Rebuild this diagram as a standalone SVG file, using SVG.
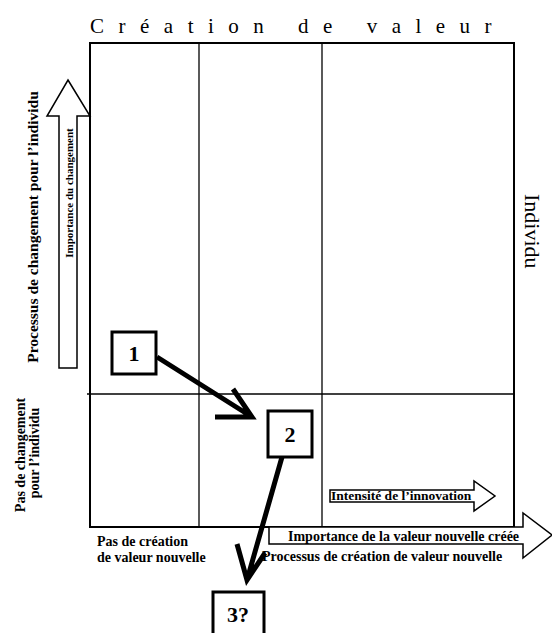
<svg xmlns="http://www.w3.org/2000/svg" width="552" height="633" viewBox="0 0 552 633">
<style>
.ln{fill:none;stroke:#000;stroke-width:2}
.thin{fill:none;stroke:#000;stroke-width:1.3}
.big{fill:#fff;stroke:#000;stroke-width:1.5}
.conn{fill:none;stroke:#000;stroke-width:5;stroke-linecap:butt;stroke-linejoin:miter}
.box{fill:#fff;stroke:#000;stroke-width:3}
.num{font-family:"Liberation Serif",serif;font-weight:bold;font-size:22px;text-anchor:middle}
.lb{font-family:"Liberation Serif",serif;font-weight:bold;fill:#000}
.tt{font-family:"Liberation Serif",serif;fill:#000}
</style>
<rect width="552" height="633" fill="#fff"/>
<g id="title"><text class="tt" x="90" y="33" font-size="21" letter-spacing="14.5">Création de valeur</text></g>
<g id="grid">
<rect class="ln" x="90" y="43" width="424" height="484"/>
<line class="thin" x1="199" y1="43" x2="199" y2="527"/>
<line class="thin" x1="322" y1="43" x2="322" y2="527"/>
<line class="thin" x1="87" y1="394" x2="514" y2="394"/>
</g>
<g id="individu"><text class="tt" font-size="22" transform="translate(525,194) rotate(90)">Individu</text></g>
<g id="arrow-changement">
<polygon class="big" points="68,80 90,116 77,116 77,368 59,368 59,116 47,116"/>
<text class="lb" font-size="11" text-anchor="middle" transform="translate(73,193) rotate(-90)">Importance du changement</text>
</g>
<g id="label-processus-changement"><text class="lb" font-size="15.5" text-anchor="middle" transform="translate(38,227) rotate(-90)">Processus de changement pour l’individu</text></g>
<g id="label-pas-changement"><text class="lb" font-size="14" text-anchor="middle" transform="translate(25,455) rotate(-90)">Pas de changement</text><text class="lb" font-size="14" text-anchor="middle" transform="translate(39,453) rotate(-90)">pour l’individu</text></g>
<g id="arrow-intensite">
<polygon class="big" points="330,490 474,490 474,481 495,496 474,511 474,502 330,502"/>
<text class="lb" font-size="13.5" x="331" y="500">Intensité de l’innovation</text>
</g>
<g id="arrow-valeur">
<polygon class="big" points="269,527 523,527 523,513 552,535 523,558 523,544 269,544"/>
<text class="lb" font-size="14" x="288" y="541">Importance de la valeur nouvelle créée</text>
</g>
<g id="label-processus-creation"><text class="lb" font-size="14" x="262" y="561">Processus de création de valeur nouvelle</text></g>
<g id="label-pas-creation"><text class="lb" font-size="14" x="97" y="546">Pas de création</text><text class="lb" font-size="14" x="97" y="562">de valeur nouvelle</text></g>
<g id="connectors">
<path class="conn" d="M157,357 L252,417 M215,417 L252,417 L233,389"/>
<path class="conn" d="M282,457 L247,580 M237,544 L247,580 L265,553"/>
</g>
<g id="node1"><rect class="box" x="112" y="332" width="44" height="42"/><text class="num" x="134" y="361">1</text></g>
<g id="node2"><rect class="box" x="268" y="411" width="44" height="46"/><text class="num" x="290" y="442">2</text></g>
<g id="node3"><rect class="box" x="213" y="592" width="51" height="45"/><text class="num" x="238" y="622">3?</text></g>
</svg>
